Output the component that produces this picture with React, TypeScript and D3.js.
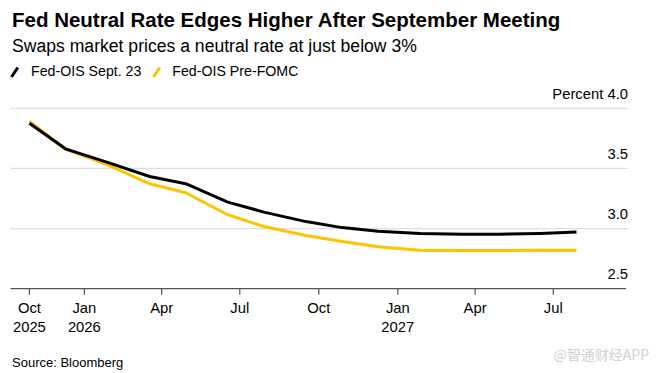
import * as d3 from "d3"
import React from "react"

const dates = [
  "2025-10-29", "2025-12-10", "2026-01-28", "2026-03-18", "2026-04-29",
  "2026-06-17", "2026-07-29", "2026-09-16", "2026-10-28", "2026-12-09",
  "2027-01-27", "2027-03-17", "2027-04-28", "2027-06-16", "2027-07-28",
]
const sept23 = [3.875, 3.663, 3.55, 3.433, 3.373, 3.22, 3.137, 3.058, 3.008, 2.978, 2.96, 2.953, 2.953, 2.96, 2.972]
const preFomc = [3.893, 3.66, 3.53, 3.372, 3.298, 3.115, 3.017, 2.942, 2.892, 2.848, 2.82, 2.817, 2.817, 2.82, 2.82]

const yTicks = [2.5, 3.0, 3.5, 4.0]
const xTickDates = ["2025-10-29", "2026-01-01", "2026-04-01", "2026-07-01", "2026-10-01", "2027-01-01", "2027-04-01", "2027-07-01"]
const xTickLabels = [["Oct", "2025"], ["Jan", "2026"], ["Apr"], ["Jul"], ["Oct"], ["Jan", "2027"], ["Apr"], ["Jul"]]

const seriesNames = ["Fed-OIS Sept. 23", "Fed-OIS Pre-FOMC"]
const BLACK = "#000000"
const YELLOW = "#ffc200"

const font = "'Liberation Sans', Arial, Helvetica, sans-serif"
const width = 656
const height = 373

export default function App() {
  const parse = d3.utcParse("%Y-%m-%d")
  const x = d3.scaleUtc()
    .domain([parse("2025-10-07")!, parse("2027-09-26")!])
    .range([10.5, 628])
  const y = d3.scaleLinear().domain([2.5, 4.0]).range([288.7, 108.3])

  const line = d3.line<number>()
    .x((d, i) => x(parse(dates[i])!))
    .y(d => y(d))

  const baseY = y(2.5)

  return (
    <svg width={width} height={height} style={{ position: "absolute", left: 0, top: 0, display: "block" }}
      fontFamily={font}>
      <rect width={width} height={height} fill="#fff" />

      <text x={12} y={26.7} fontSize={20.5} fontWeight="bold" fill="#000">
        Fed Neutral Rate Edges Higher After September Meeting
      </text>
      <text x={12} y={52.3} fontSize={17.6} fill="#000">
        Swaps market prices a neutral rate at just below 3%
      </text>

      {/* legend */}
      <line x1={11.5} y1={77} x2={17.8} y2={67.5} stroke={BLACK} strokeWidth={3} />
      <text x={31} y={76} fontSize={14.2} fill="#000">{seriesNames[0]}</text>
      <line x1={153.5} y1={77} x2={159.8} y2={67.5} stroke={YELLOW} strokeWidth={3} />
      <text x={172.3} y={76} fontSize={14.2} fill="#000">{seriesNames[1]}</text>

      {/* gridlines + y labels */}
      {yTicks.map(t => (
        <g key={t}>
          {t > 2.5 && (
            <line x1={10.5} x2={628} y1={y(t)} y2={y(t)} stroke="#dedede" strokeWidth={1.2} />
          )}
          <text x={628} y={y(t) - 9.3} fontSize={14.8} textAnchor="end" fill="#000">
            {t === 4.0 ? "Percent " + d3.format(".1f")(t) : d3.format(".1f")(t)}
          </text>
        </g>
      ))}

      {/* lines */}
      <path d={line(preFomc) ?? ""} fill="none" stroke={YELLOW} strokeWidth={3}
        strokeLinejoin="round" strokeLinecap="butt" />
      <path d={line(sept23) ?? ""} fill="none" stroke={BLACK} strokeWidth={3}
        strokeLinejoin="round" strokeLinecap="butt" />

      {/* x axis */}
      <line x1={10.5} x2={626} y1={baseY} y2={baseY} stroke="#555" strokeWidth={1.2} />
      {xTickDates.map((d, i) => {
        const tx = x(parse(d)!)
        return (
          <g key={d}>
            <line x1={tx} x2={tx} y1={baseY} y2={baseY + 6} stroke="#555" strokeWidth={1.2} />
            {xTickLabels[i].map((s, j) => (
              <text key={j} x={tx} y={313.3 + j * 18.4} fontSize={14.8} textAnchor="middle" fill="#000">{s}</text>
            ))}
          </g>
        )
      })}

      <text x={12} y={367.3} fontSize={13} fill="#000">Source: Bloomberg</text>
      <text x={649} y={360} fontSize={14} textAnchor="end" fill="#d0d0d0"
        fontFamily="'Noto Sans CJK SC', sans-serif">@智通财经APP</text>
    </svg>
  )
}
